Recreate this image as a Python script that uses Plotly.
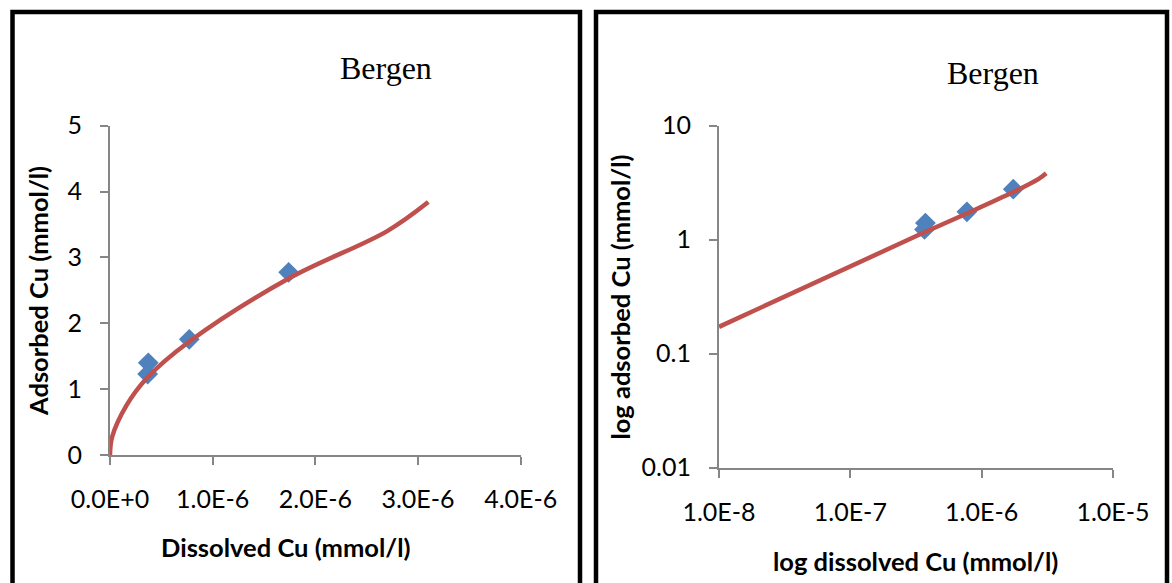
import plotly.graph_objects as go

# ---------------- data ----------------
# measured points (left, linear)
lin_x = [3.67e-7, 3.73e-7, 7.72e-7, 1.74e-6]
lin_y = [1.23, 1.40, 1.757, 2.774]
# fitted curve (left, linear)
lin_fit_x = [0.0, 0.02e-6, 0.159e-6, 0.36e-6, 0.77e-6, 1.74e-6, 2.7e-6, 3.1e-6]
lin_fit_y = [0.0, 0.27, 0.75, 1.17, 1.72, 2.68, 3.40, 3.84]

# measured points (right, log-log)
log_x = [3.67e-7, 3.73e-7, 7.72e-7, 1.74e-6]
log_y = [1.23, 1.40, 1.757, 2.774]
# fitted curve (right, log-log)
log_fit_x = [1e-8, 3.6e-7, 7.7e-7, 1.74e-6, 2.7e-6, 3.1e-6]
log_fit_y = [0.172, 1.15, 1.70, 2.62, 3.40, 3.83]

lin_xticks = [0, 1e-6, 2e-6, 3e-6, 4e-6]
lin_xtext = ["0.0E+0", "1.0E-6", "2.0E-6", "3.0E-6", "4.0E-6"]
lin_yticks = [0, 1, 2, 3, 4, 5]
lin_ytext = ["0", "1", "2", "3", "4", "5"]
log_xticks = [1e-8, 1e-7, 1e-6, 1e-5]
log_xtext = ["1.0E-8", "1.0E-7", "1.0E-6", "1.0E-5"]
log_yticks = [0.01, 0.1, 1, 10]
log_ytext = ["0.01", "0.1", "1", "10"]

title_text = "Bergen"
left_xtitle = "Dissolved Cu (mmol/l)"
left_ytitle = "Adsorbed Cu (mmol/l)"
right_xtitle = "log dissolved Cu (mmol/l)"
right_ytitle = "log adsorbed Cu (mmol/l)"

# ---------------- layout helpers ----------------
W, H = 1172, 583
def fx(p):
    return p / W
def fy(p):
    return 1 - p / H

BLUE = "#4F81BD"
RED = "#C0504D"
AX = "#868686"
SANS = "Lato"

fig = go.Figure()

mk = dict(symbol="diamond", size=16, color=BLUE, line=dict(width=0))
fig.add_trace(go.Scatter(x=lin_x, y=lin_y, mode="markers", marker=mk,
                         xaxis="x", yaxis="y", showlegend=False))
fig.add_trace(go.Scatter(x=lin_fit_x, y=lin_fit_y, mode="lines",
                         line=dict(color=RED, width=4.5, shape="spline", smoothing=1),
                         xaxis="x", yaxis="y", showlegend=False))
fig.add_trace(go.Scatter(x=log_x, y=log_y, mode="markers", marker=mk,
                         xaxis="x2", yaxis="y2", showlegend=False))
fig.add_trace(go.Scatter(x=log_fit_x, y=log_fit_y, mode="lines",
                         line=dict(color=RED, width=4.5, shape="spline", smoothing=1),
                         xaxis="x2", yaxis="y2", showlegend=False))

tickfont = dict(family=SANS, size=25, color="black")
common = dict(showgrid=False, zeroline=False, showline=True, linecolor=AX, linewidth=2,
              ticks="outside", ticklen=8, tickwidth=2, tickcolor=AX, tickfont=tickfont,
              automargin=False, ticklabelstandoff=13)

fig.update_layout(
    template="none",
    width=W, height=H,
    margin=dict(l=0, r=0, t=0, b=0, pad=0),
    paper_bgcolor="white", plot_bgcolor="white",
    xaxis=dict(domain=[fx(110), fx(520.7)], range=[0, 4e-6], tickmode="array",
               tickvals=lin_xticks, ticktext=lin_xtext, anchor="y", **common),
    yaxis=dict(domain=[fy(455), fy(125.7)], range=[0, 5], tickmode="array",
               tickvals=lin_yticks, ticktext=lin_ytext, anchor="x", **common),
    xaxis2=dict(domain=[fx(719), fx(1113)], type="log", range=[-8, -5], tickmode="array",
                tickvals=log_xticks, ticktext=log_xtext, anchor="y2", **common),
    yaxis2=dict(domain=[fy(467.7), fy(125.7)], type="log", range=[-2, 1], tickmode="array",
                tickvals=log_yticks, ticktext=log_ytext, anchor="x2", **common),
    showlegend=False,
)

# panel borders
for x0, x1 in [(12.5, 580), (596, 1167)]:
    fig.add_shape(type="rect", xref="paper", yref="paper",
                  x0=fx(x0), x1=fx(x1), y0=-0.2, y1=fy(12),
                  line=dict(color="black", width=4.5), fillcolor="rgba(0,0,0,0)")

serif = dict(family="Liberation Serif, Times New Roman, serif", size=32, color="black")
bold = dict(family=SANS, size=25.5, color="black", weight="bold")

ann = [
    dict(text=title_text, x=fx(386), y=fy(68), font=serif),
    dict(text=title_text, x=fx(992.5), y=fy(73), font=serif),
    dict(text=left_xtitle, x=fx(285), y=fy(547), font=bold),
    dict(text=left_ytitle, x=fx(38), y=fy(291), font=bold, textangle=-90),
    dict(text=right_xtitle, x=fx(915.6), y=fy(561), font=bold),
    dict(text=right_ytitle, x=fx(620), y=fy(297.6), font=bold, textangle=-90),
]
for a in ann:
    fig.add_annotation(xref="paper", yref="paper", showarrow=False,
                       xanchor="center", yanchor="middle", **a)

fig.write_html("out.html")
